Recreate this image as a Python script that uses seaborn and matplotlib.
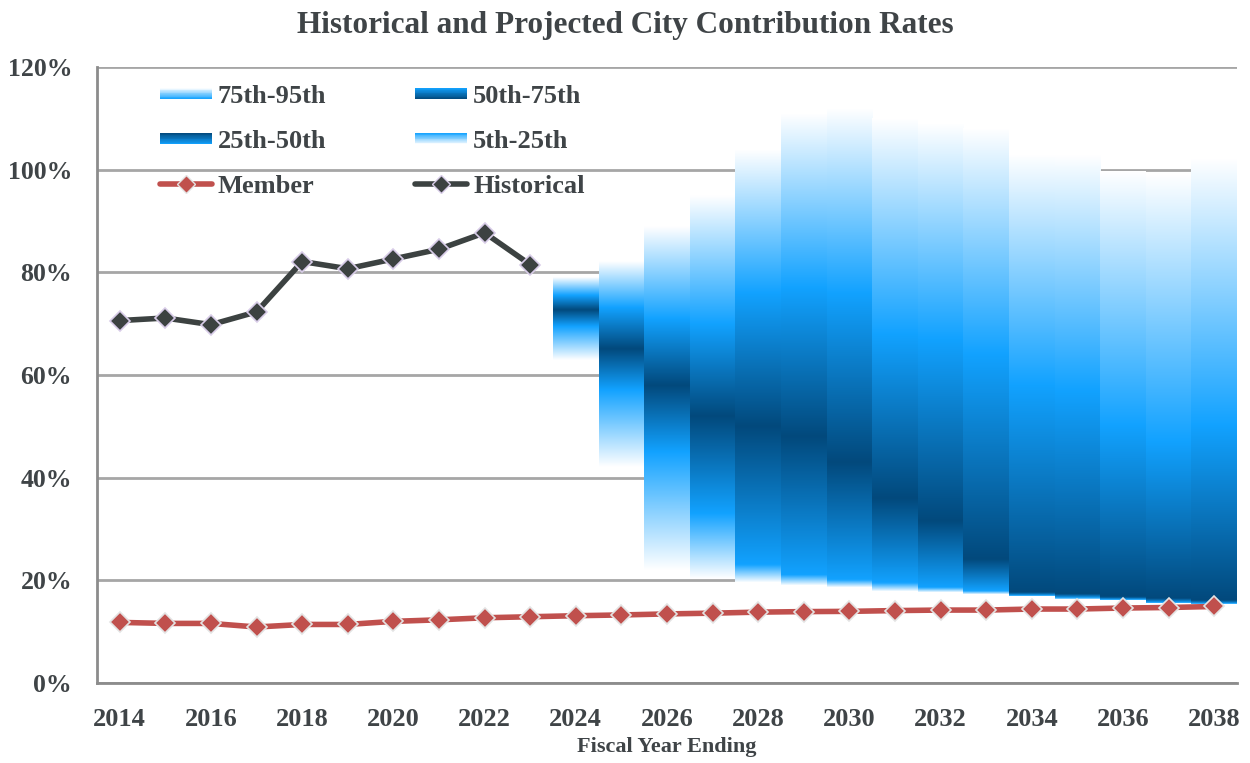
import numpy as np
import matplotlib
matplotlib.use("Agg")
import matplotlib.pyplot as plt
import seaborn as sns
from matplotlib.colors import to_rgb
from matplotlib.legend_handler import HandlerBase
from matplotlib.patches import Rectangle, Patch
from matplotlib.lines import Line2D

# ---- data (percent of payroll) ----
years = list(range(2014, 2039))
hist_years = list(range(2014, 2024))
historical = [70.6, 71.1, 69.8, 72.3, 82.1, 80.7, 82.6, 84.5, 87.7, 81.5]
member = [11.8, 11.6, 11.6, 10.9, 11.4, 11.4, 12.0, 12.3, 12.7, 12.9, 13.1, 13.25, 13.45,
          13.6, 13.8, 13.9, 13.95, 14.1, 14.2, 14.2, 14.4, 14.4, 14.6, 14.7, 14.9]

proj_years = list(range(2024, 2039))
p95 = [79.0, 82.0, 89.0, 95.0, 104.0, 111.0, 112.0, 110.0, 109.0, 108.0, 103.0, 103.0, 99.5, 99.0, 102.0]
p75 = [75.5, 73.0, 71.0, 70.0, 76.0, 77.0, 76.0, 68.0, 67.0, 64.0, 58.0, 57.0, 50.0, 47.0, 50.0]
p50 = [72.7, 65.0, 58.0, 52.0, 50.0, 48.0, 43.0, 36.0, 31.5, 24.0, 17.5, 17.3, 16.6, 16.3, 15.9]
p25 = [69.5, 57.0, 45.0, 33.0, 23.0, 21.0, 20.0, 19.5, 18.5, 17.8, 16.9, 16.5, 16.1, 15.5, 15.3]
p5 = [63.0, 42.0, 22.0, 20.3, 19.5, 18.9, 18.5, 17.8, 17.5, 17.1, 16.7, 16.2, 15.9, 15.3, 15.1]

band_labels = ["75th-95th", "50th-75th", "25th-50th", "5th-25th"]

# ---- style ----
BRIGHT = "#12A2FF"
DARK = "#02497C"
TXT = "#3F4447"
GRID = "#A6A6A6"

sns.set_style("white")
plt.rcParams["font.family"] = ["Liberation Serif", "DejaVu Serif"]
plt.rcParams["font.weight"] = "bold"
plt.rcParams["text.color"] = TXT

fig = plt.figure(figsize=(12.5, 7.63), dpi=100)
ax = fig.add_axes([0.0776, 0.1049, 0.912, 0.8073])

# gradient stops: white at 5th, bright at 25th, dark at median, bright at 75th, white at 95th
stop_cols = np.array([to_rgb("white"), to_rgb(BRIGHT), to_rgb(DARK), to_rgb(BRIGHT), to_rgb("white")])

bars = ax.bar(proj_years, np.array(p95) - np.array(p5), bottom=p5, width=1.0,
              color="none", linewidth=0, zorder=2)
for i, rect in enumerate(bars.patches):
    lo, hi = p5[i], p95[i]
    yv = np.linspace(lo, hi, 400)
    pos = np.interp(yv, [p5[i], p25[i], p50[i], p75[i], p95[i]], [0, 1, 2, 3, 4])
    img = np.stack([np.interp(pos, np.arange(5), stop_cols[:, c]) for c in range(3)], axis=-1)
    img = img[:, None, :]
    x0 = rect.get_x()
    ax.imshow(img, extent=[x0, x0 + rect.get_width(), lo, hi], origin="lower",
              aspect="auto", interpolation="bilinear", zorder=2)

# lines
sns.lineplot(x=years, y=member, ax=ax, color="#C0504D", lw=4, marker="D", markersize=10,
             markeredgecolor="#E3E3E3", markeredgewidth=1.2, zorder=5)
sns.lineplot(x=hist_years, y=historical, ax=ax, color="#3C4241", lw=4, marker="D", markersize=10.5,
             markeredgecolor="#D8CCE8", markeredgewidth=1.2, zorder=5)

# axes
ax.set_xlim(2013.5, 2038.5)
ax.set_ylim(0, 120)
ax.set_axisbelow(True)
ax.yaxis.grid(True, color=GRID, lw=2)
ax.xaxis.grid(False)
for s in ["top", "right"]:
    ax.spines[s].set_visible(False)
for s in ["left", "bottom"]:
    ax.spines[s].set_color("#8C8C8C")
    ax.spines[s].set_linewidth(2)

ax.set_yticks(range(0, 121, 20))
ax.set_yticklabels([f"{v}%" for v in range(0, 121, 20)])
ax.tick_params(axis="y", length=5, width=2, color="#8C8C8C", pad=13, labelsize=18.5, labelcolor=TXT)

ax.set_xticks(np.arange(2013.5, 2039, 1))
ax.set_xticklabels([])
ax.tick_params(axis="x", which="major", length=5, width=2, color="#8C8C8C")
ax.set_xticks(years[::2], minor=True)
ax.set_xticklabels([str(y) for y in years[::2]], minor=True)
ax.tick_params(axis="x", which="minor", length=0, pad=18, labelsize=19, labelcolor=TXT)

ax.set_xlabel("Fiscal Year Ending", fontsize=16, fontweight="bold", color=TXT, labelpad=4)
ax.set_ylabel("")
fig.text(0.5, 0.966, "Historical and Projected City Contribution Rates", ha="center", va="center",
         fontsize=22.5, fontweight="bold", color=TXT)


# legend with gradient swatches
class GradientHandler(HandlerBase):
    def __init__(self, top, bottom):
        super().__init__()
        self.top = np.array(to_rgb(top))
        self.bottom = np.array(to_rgb(bottom))

    def create_artists(self, legend, orig_handle, xdescent, ydescent, width, height, fontsize, trans):
        n = 14
        h = height * 0.6
        y0 = -ydescent + (height - h) / 2
        arts = []
        for k in range(n):
            f = (k + 0.5) / n
            col = self.bottom + (self.top - self.bottom) * f
            arts.append(Rectangle((-xdescent, y0 + k * h / n), width, h / n + 0.2,
                                  facecolor=col, linewidth=0, transform=trans))
        return arts


h7595 = Patch(label=band_labels[0])
h5075 = Patch(label=band_labels[1])
h2550 = Patch(label=band_labels[2])
h0525 = Patch(label=band_labels[3])
hmem = Line2D([0], [0], color="#C0504D", lw=4, marker="D", markersize=9,
              markeredgecolor="#E3E3E3", label="Member")
hhist = Line2D([0], [0], color="#3C4241", lw=4, marker="D", markersize=9,
               markeredgecolor="#D8CCE8", label="Historical")

handles = [h7595, h2550, hmem, h5075, h0525, hhist]
leg = ax.legend(handles=handles, ncol=2, loc="upper left", bbox_to_anchor=(0.055, 0.972),
                frameon=False, fontsize=19, handlelength=1.97, handletextpad=0.23,
                columnspacing=3.37, labelspacing=0.82, borderpad=0, borderaxespad=0,
                handler_map={h7595: GradientHandler("white", BRIGHT),
                             h5075: GradientHandler(BRIGHT, DARK),
                             h2550: GradientHandler(DARK, BRIGHT),
                             h0525: GradientHandler(BRIGHT, "white")})
for t in leg.get_texts():
    t.set_color(TXT)
    t.set_fontweight("bold")

fig.savefig("out.png", dpi=100)
